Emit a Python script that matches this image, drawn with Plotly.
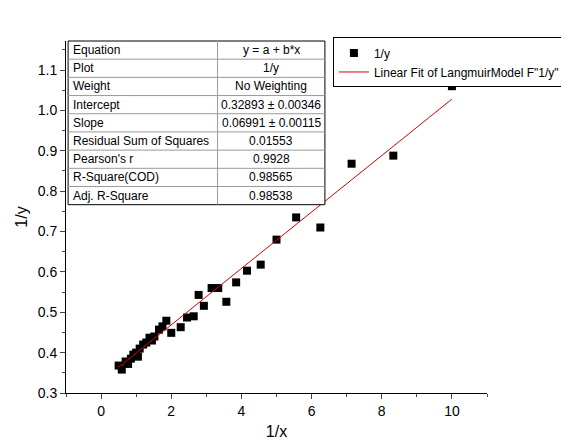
import plotly.graph_objs as go
import numpy as np

# 1/x and 1/y data
inv_x = [10.0, 8.33, 7.14, 6.25, 5.56, 5.0, 4.55, 4.16, 3.85, 3.57, 3.34, 3.15,
         2.93, 2.78, 2.64, 2.45, 2.27, 2.0, 1.86, 1.75, 1.65, 1.52, 1.45, 1.38,
         1.29, 1.2, 1.1, 1.05, 1.0, 0.92, 0.85, 0.77, 0.7, 0.59, 0.5]
inv_y = [1.06, 0.888, 0.868, 0.71, 0.735, 0.68, 0.618, 0.603, 0.574, 0.526, 0.56, 0.56,
         0.516, 0.543, 0.49, 0.487, 0.463, 0.449, 0.479, 0.465, 0.457, 0.44, 0.43, 0.437,
         0.425, 0.42, 0.41, 0.39, 0.40, 0.395, 0.385, 0.372, 0.378, 0.358, 0.368]

intercept = 0.32893
slope = 0.06991

table_labels = ["Equation", "Plot", "Weight", "Intercept", "Slope",
                "Residual Sum of Squares", "Pearson's r", "R-Square(COD)", "Adj. R-Square"]
table_values = ["y = a + b*x", "1/y", "No Weighting", "0.32893 ± 0.00346",
                "0.06991 ± 0.00115", "0.01553", "0.9928", "0.98565", "0.98538"]

fit_x = np.array([min(inv_x), max(inv_x)])
fit_y = intercept + slope * fit_x

fig = go.Figure()
fig.add_trace(go.Scatter(x=inv_x, y=inv_y, mode="markers", name="1/y",
                         marker=dict(symbol="square", size=8, color="black")))
fig.add_trace(go.Scatter(x=fit_x, y=fit_y, mode="lines",
                         name='Linear Fit of LangmuirModel F"1/y"',
                         line=dict(color="#d40000", width=1)))

# fit statistics table drawn with shapes and annotations (paper coords)
tx0, tx1, tmid = 0.005, 0.615, 0.36
ty_top, ty_bot = 1.0, 0.535
row_h = (ty_top - ty_bot) / len(table_labels)
fig.add_shape(type="rect", xref="paper", yref="paper", x0=tx0, x1=tx1,
              y0=ty_bot, y1=ty_top, line=dict(color="black", width=1),
              fillcolor="white", layer="above")
fig.add_shape(type="line", xref="paper", yref="paper", x0=tmid, x1=tmid,
              y0=ty_bot, y1=ty_top, line=dict(color="#999", width=1), layer="above")
for i, (lab, val) in enumerate(zip(table_labels, table_values)):
    yc = ty_top - (i + 0.5) * row_h
    if i > 0:
        fig.add_shape(type="line", xref="paper", yref="paper", x0=tx0, x1=tx1,
                      y0=ty_top - i * row_h, y1=ty_top - i * row_h,
                      line=dict(color="#999", width=1), layer="above")
    fig.add_annotation(xref="paper", yref="paper", x=tx0 + 0.008, y=yc, text=lab,
                       showarrow=False, xanchor="left", yanchor="middle",
                       font=dict(size=12))
    fig.add_annotation(xref="paper", yref="paper", x=(tmid + tx1) / 2, y=yc, text=val,
                       showarrow=False, xanchor="center", yanchor="middle",
                       font=dict(size=12))

axis_font = dict(family="Liberation Sans, Arial", size=14, color="black")
fig.update_layout(
    width=569, height=446,
    margin=dict(l=58, r=82, t=33, b=61),
    plot_bgcolor="white", paper_bgcolor="white",
    font=dict(family="Liberation Sans, Arial", size=12, color="black"),
    legend=dict(x=0.634, y=1.01, xanchor="left", yanchor="top",
                bordercolor="black", borderwidth=1, bgcolor="white",
                font=dict(size=12), tracegroupgap=0, itemwidth=30),
    xaxis=dict(range=[-1, 11], tickvals=[0, 2, 4, 6, 8, 10], ticks="outside",
               ticklen=5, showline=True, linecolor="black", showgrid=False,
               zeroline=False, tickfont=axis_font, automargin=False,
               minor=dict(ticks="outside", ticklen=3, dtick=1),
               title=dict(text="1/x", standoff=8,
                          font=dict(family="Liberation Sans, Arial", size=16))),
    yaxis=dict(range=[0.3, 1.172], dtick=0.1, tickformat=".1f", ticks="outside",
               ticklen=5, showline=True, linecolor="black", showgrid=False,
               zeroline=False, tickfont=axis_font, automargin=False,
               minor=dict(ticks="outside", ticklen=3, dtick=0.05),
               title=dict(text="1/y", standoff=6,
                          font=dict(family="Liberation Sans, Arial", size=16))),
)

fig.write_html("out.html")
